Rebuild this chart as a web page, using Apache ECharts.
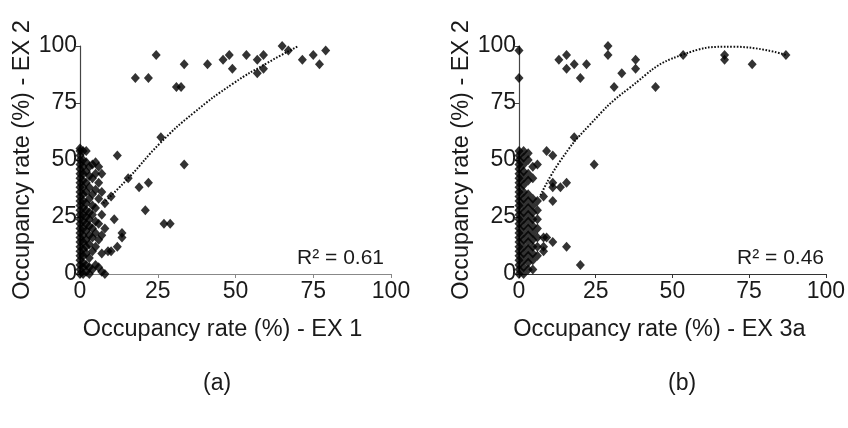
<!DOCTYPE html>
<html>
<head>
<meta charset="utf-8">
<script src="https://cdn.jsdelivr.net/npm/echarts@6/dist/echarts.min.js"></script>
<style>
  html, body { margin: 0; padding: 0; background: #fff; }
  #chart { width: 848px; height: 428px; }
</style>
</head>
<body>
<div id="chart"></div>
<script>
// tick values shared by both panels
var axisTicks = [0, 25, 50, 75, 100];

// panel (a): EX 1 vs EX 2
var pointsA = [
    [0,0],[0,2],[0,4],[0,6],[0,8],[0,10],[0,12],[0,14],[0,16],[0,18],[0,20],[0,22],[0,24],[0,26],[0,28],
    [0,30],[0,32],[0,34],[0,36],[0,38],[0,40],[0,42],[0,44],[0,46],[0,48],[0,50],[0,52],[0,54],[0,55],
    [1,0],[1,3],[1,5],[1,8],[1,11],[1,14],[1,17],[1,20],[1,23],[1,26],[1,29],[1,32],[1,35],[1,38],[1,41],
    [1,44],[1,47],[1,50],[1,54],
    [2,1],[2,4],[2,9],[2,12],[2,15],[2,19],[2,22],[2,25],[2,28],[2,31],[2,36],[2,40],[2,45],[2,49],[2,54],
    [3,0],[3,3],[3,7],[3,13],[3,17],[3,21],[3,24],[3,27],[3,33],[3,38],[3,43],[3,47],
    [4,2],[4,10],[4,16],[4,20],[4,26],[4,30],[4,35],[4,42],[4,48],
    [5,4],[5,12],[5,18],[5,23],[5,29],[5,37],[5,44],[5,49],
    [6,3],[6,15],[6,22],[6,33],[6,40],[6,47],
    [7,1],[7,9],[7,17],[7,26],[7,36],[7,44],
    [8,0],[8,20],[8,31],[9,10],[10,10],[10,34],[11,24],[12,12],[13.5,16],[13.5,18],
    [12,52],[15.5,42],[19,38],[22,40],[21,28],[27,22],[29,22],[26,60],[33.5,48],
    [24.5,96],[17.8,86],[22,86],[31,82],[32.5,82],[33.5,92],[41,92],[46,94],[48,96],[49,90],
    [53.5,96],[57,94],[59,96],[57,88],[59,90],[65,100],[67,98],[71.5,94],[75,96],[77,92],[79,98]
];
var trendA = [[7.5,31],[16,42.7],[25.7,57.3],[36.4,70.5],[49.3,83.6],[60,92.4],[70.2,100]];

// panel (b): EX 3a vs EX 2
var pointsB = [
    [0,0],[0,2],[0,4],[0,6],[0,8],[0,10],[0,12],[0,14],[0,16],[0,18],[0,20],[0,22],[0,24],[0,26],[0,28],
    [0,30],[0,32],[0,34],[0,36],[0,38],[0,40],[0,42],[0,44],[0,46],[0,48],[0,50],[0,52],[0,54],[0,86],[0,98],
    [1.5,0],[1.5,3],[1.5,6],[1.5,9],[1.5,12],[1.5,15],[1.5,18],[1.5,21],[1.5,24],[1.5,27],[1.5,30],
    [1.5,33],[1.5,36],[1.5,39],[1.5,42],[1.5,45],[1.5,48],[1.5,51],[1.5,54],
    [3,2],[3,5],[3,8],[3,11],[3,14],[3,17],[3,20],[3,23],[3,26],[3,29],[3,32],[3,35],[3,41],[3,44],[3,50],[3,53],
    [4.5,2],[4.5,6],[4.5,9],[4.5,12],[4.5,15],[4.5,18],[4.5,21],[4.5,24],[4.5,27],[4.5,30],[4.5,33],[4.5,42],[4.5,47],
    [6,8],[6,12],[6,16],[6,20],[6,24],[6,28],[6,32],[6,48],
    [8,10],[8,12],[8,16],[8,34],[9,16],[9,54],[11,14],[11,32],[11,38],[11,40],[11,52],
    [13.5,38],[15.5,12],[15.5,40],[20,4],[18,60],[24.5,48],
    [13,94],[15.5,96],[15.5,90],[18,92],[22,92],[20,86],[29,100],[29,96],[33.5,88],[31,82],
    [38,94],[38,90],[44.5,82],[53.5,96],[67,96],[67,94],[76,92],[87,96]
];
var trendB = [[7,34.5],[13.3,49.3],[22.9,65.2],[35.8,81.4],[52.9,96],[70,99.7],[87.2,96]];

var FONT = 'Liberation Sans, Arial, sans-serif';
var INK = '#1a1a1a';

function makeX(idx, name, lineColor) {
    return {
        gridIndex: idx, type: 'value', min: 0, max: 100, interval: 25,
        name: name, nameLocation: 'middle', nameGap: 44,
        nameTextStyle: { fontFamily: FONT, fontSize: 23.5, color: INK, padding: [0, 26, 0, 0] },
        axisLine: { onZero: false, lineStyle: { color: lineColor, width: 1.2 } },
        axisTick: { length: 4, lineStyle: { color: lineColor } },
        axisLabel: { fontFamily: FONT, fontSize: 23, color: INK, margin: 6,
            formatter: function (v) { return axisTicks.indexOf(v) >= 0 ? String(v) : ''; } },
        splitLine: { show: false }
    };
}

function makeY(idx) {
    return {
        gridIndex: idx, type: 'value', min: 0, max: 100, interval: 25,
        name: 'Occupancy rate (%) - EX 2', nameLocation: 'middle', nameGap: 44,
        nameTextStyle: { fontFamily: FONT, fontSize: 23.5, color: INK },
        axisLine: { onZero: false, lineStyle: { color: '#444', width: 1.2 } },
        axisTick: { length: 4, lineStyle: { color: '#444' } },
        axisLabel: { fontFamily: FONT, fontSize: 23, color: INK, margin: 3 },
        splitLine: { show: false }
    };
}

function scatter(idx, data) {
    return {
        type: 'scatter', xAxisIndex: idx, yAxisIndex: idx, data: data,
        symbol: 'diamond', symbolSize: [9, 10],
        itemStyle: { color: '#000' }, z: 3
    };
}

function trend(idx, data) {
    return {
        type: 'line', xAxisIndex: idx, yAxisIndex: idx, data: data,
        smooth: true, showSymbol: false, symbol: 'none',
        lineStyle: { color: '#111', width: 2, type: [1.6, 1.6] }, z: 2
    };
}

var chart = echarts.init(document.getElementById('chart'));
chart.setOption({
    backgroundColor: '#fff',
    animation: false,
    grid: [
        { left: 80, top: 46, width: 311, height: 228 },
        { left: 519, top: 46, width: 311, height: 228 }
    ],
    xAxis: [makeX(0, 'Occupancy rate (%) - EX 1', '#888'), makeX(1, 'Occupancy rate (%) - EX 3a', '#333')],
    yAxis: [makeY(0), makeY(1)],
    series: [scatter(0, pointsA), trend(0, trendA), scatter(1, pointsB), trend(1, trendB)],
    graphic: [
        { type: 'text', right: 848 - 384, top: 248, style: { text: 'R² = 0.61', font: '21px ' + FONT, fill: INK } },
        { type: 'text', right: 848 - 824, top: 248, style: { text: 'R² = 0.46', font: '21px ' + FONT, fill: INK } },
        { type: 'text', left: 203, top: 372, style: { text: '(a)', font: '23px ' + FONT, fill: INK } },
        { type: 'text', left: 668, top: 372, style: { text: '(b)', font: '23px ' + FONT, fill: INK } }
    ]
});
</script>
</body>
</html>
